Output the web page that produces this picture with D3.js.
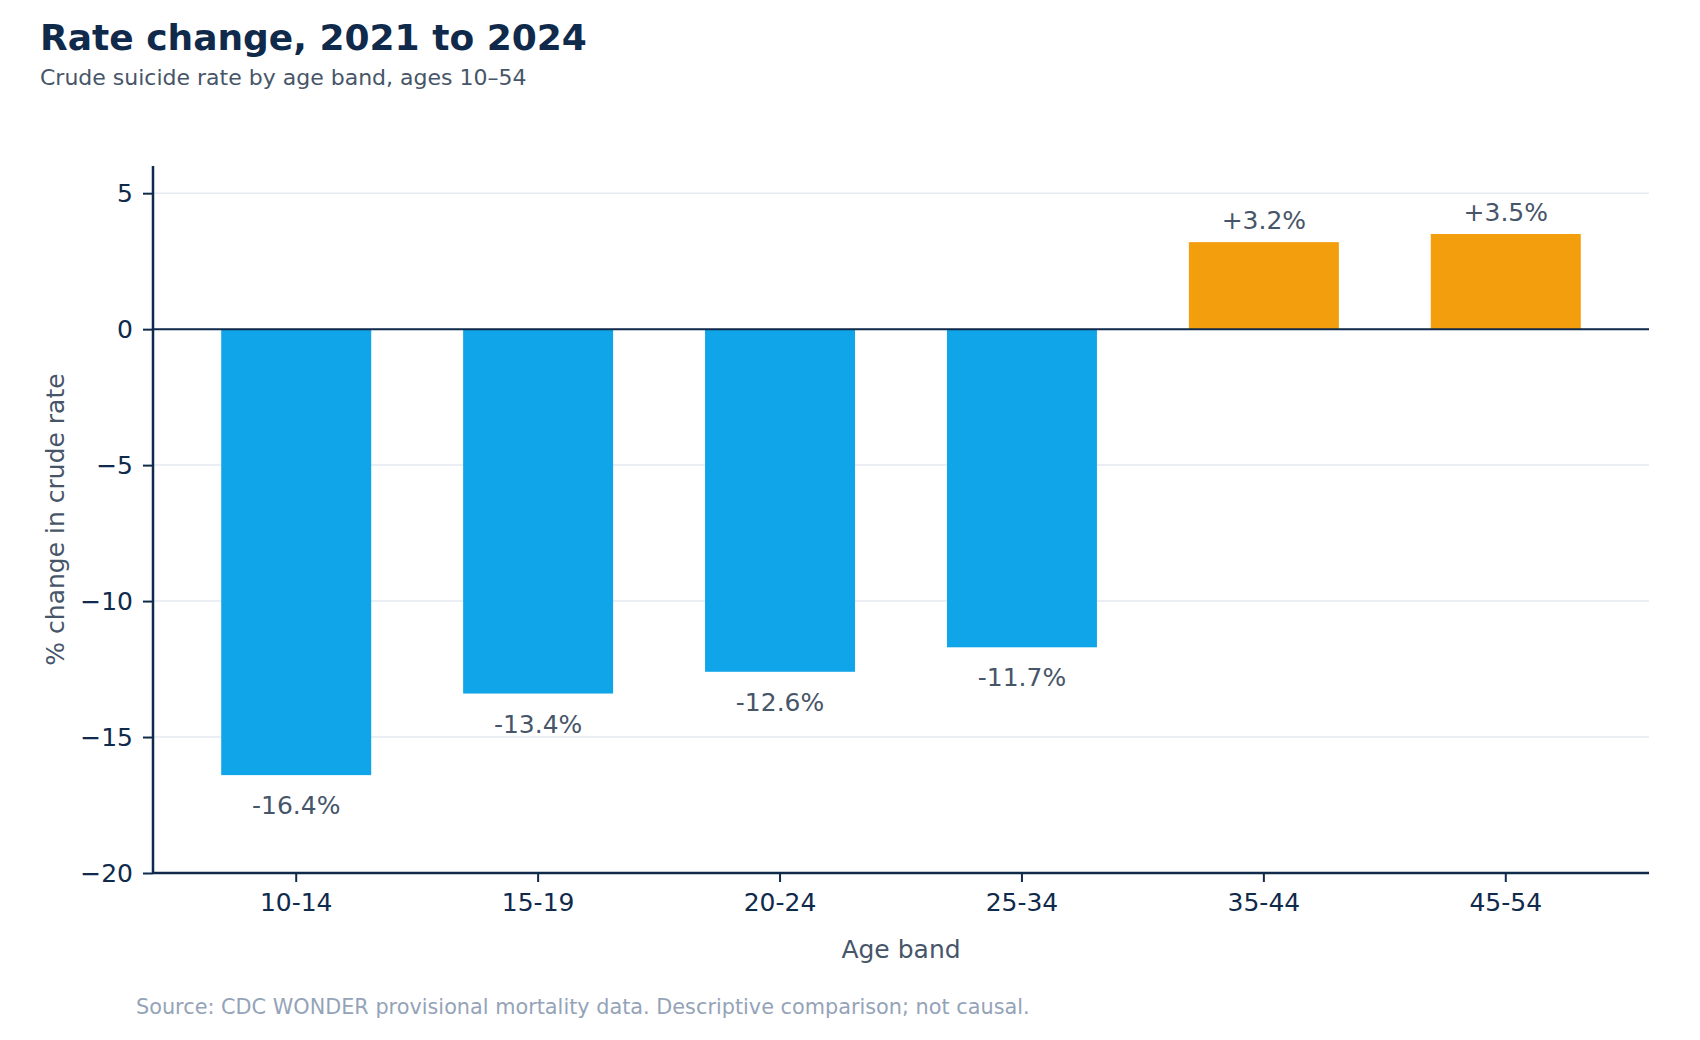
<!DOCTYPE html>
<html>
<head>
<meta charset="utf-8">
<script src="https://cdn.jsdelivr.net/npm/d3@7"></script>
<style>
  body { margin: 0; background: #fff; }
  svg { display: block; font-family: "DejaVu Sans", sans-serif; }
</style>
</head>
<body>
<script>
"use strict";

const WIDTH = 1700
const HEIGHT = 1040

// data
const age_bands = ["10-14", "15-19", "20-24", "25-34", "35-44", "45-54"]
const pct_change = [-16.4, -13.4, -12.6, -11.7, 3.2, 3.5]
const y_ticks = [5, 0, -5, -10, -15, -20]

const NAVY = "#102a4c"
const SLATE = "#475569"
const BLUE = "#10a5e8"
const ORANGE = "#f39e0d"

const margin = { top: 166, right: 51, bottom: 167, left: 153 }
const plot_w = WIDTH - margin.left - margin.right
const plot_h = HEIGHT - margin.top - margin.bottom

const svg = d3.select("body").append("svg")
    .attr("width", WIDTH)
    .attr("height", HEIGHT)
    .attr("viewBox", `0 0 ${WIDTH} ${HEIGHT}`)

svg.append("text")
    .attr("x", 40)
    .attr("y", 50)
    .attr("font-size", 36)
    .attr("font-weight", "bold")
    .attr("fill", NAVY)
    .text("Rate change, 2021 to 2024")

svg.append("text")
    .attr("x", 40)
    .attr("y", 85)
    .attr("font-size", 22)
    .attr("fill", SLATE)
    .text("Crude suicide rate by age band, ages 10\u201354")

const g = svg.append("g")
    .attr("transform", `translate(${margin.left},${margin.top})`)

const x = d3.scaleBand()
    .domain(age_bands)
    .range([0, plot_w])
    .paddingInner(0.38)
    .paddingOuter(0.282)

const y = d3.scaleLinear()
    .domain([-20, 6])
    .range([plot_h, 0])

// gridlines
g.append("g")
    .selectAll("line")
    .data(y_ticks)
    .join("line")
    .attr("x1", 0)
    .attr("x2", plot_w)
    .attr("y1", d => y(d))
    .attr("y2", d => y(d))
    .attr("stroke", "#e5e9f0")
    .attr("stroke-width", 1.5)

const bars = d3.zip(age_bands, pct_change)

g.append("g")
    .selectAll("rect")
    .data(bars)
    .join("rect")
    .attr("x", d => x(d[0]))
    .attr("width", x.bandwidth())
    .attr("y", d => y(Math.max(0, d[1])))
    .attr("height", d => Math.abs(y(d[1]) - y(0)))
    .attr("fill", d => d[1] < 0 ? BLUE : ORANGE)

g.append("g")
    .selectAll("text")
    .data(bars)
    .join("text")
    .attr("x", d => x(d[0]) + x.bandwidth() / 2)
    .attr("y", d => d[1] < 0 ? y(d[1]) + 39 : y(d[1]) - 13)
    .attr("text-anchor", "middle")
    .attr("font-size", 25)
    .attr("fill", SLATE)
    .text(d => (d[1] > 0 ? "+" : "") + d[1].toFixed(1) + "%")

// zero line
g.append("line")
    .attr("x1", 0)
    .attr("x2", plot_w)
    .attr("y1", y(0))
    .attr("y2", y(0))
    .attr("stroke", NAVY)
    .attr("stroke-width", 2)

const yAxis = g.append("g")
    .call(d3.axisLeft(y).tickValues(y_ticks).tickSize(10).tickPadding(10))
yAxis.select(".domain").attr("stroke", NAVY).attr("stroke-width", 2.5)
    .attr("d", `M0,0V${plot_h}`)
yAxis.selectAll(".tick line").attr("stroke", NAVY).attr("stroke-width", 2)
yAxis.selectAll(".tick text").attr("fill", NAVY).attr("font-size", 25)
    .attr("font-family", "DejaVu Sans")

const xAxis = g.append("g")
    .attr("transform", `translate(0,${plot_h})`)
    .call(d3.axisBottom(x).tickSize(9).tickPadding(11))
xAxis.select(".domain").attr("stroke", NAVY).attr("stroke-width", 2.5)
    .attr("d", `M0,0H${plot_w}`)
xAxis.selectAll(".tick line").attr("stroke", NAVY).attr("stroke-width", 2)
xAxis.selectAll(".tick text").attr("fill", NAVY).attr("font-size", 25)
    .attr("font-family", "DejaVu Sans")

g.append("text")
    .attr("x", plot_w / 2)
    .attr("y", plot_h + 85)
    .attr("text-anchor", "middle")
    .attr("font-size", 25)
    .attr("fill", SLATE)
    .text("Age band")

g.append("text")
    .attr("transform", `translate(${-89},${plot_h / 2}) rotate(-90)`)
    .attr("text-anchor", "middle")
    .attr("font-size", 25)
    .attr("fill", SLATE)
    .text("% change in crude rate")

svg.append("text")
    .attr("x", 136)
    .attr("y", 1014)
    .attr("font-size", 20.8)
    .attr("fill", "#94a3b8")
    .text("Source: CDC WONDER provisional mortality data. Descriptive comparison; not causal.")
</script>
</body>
</html>
